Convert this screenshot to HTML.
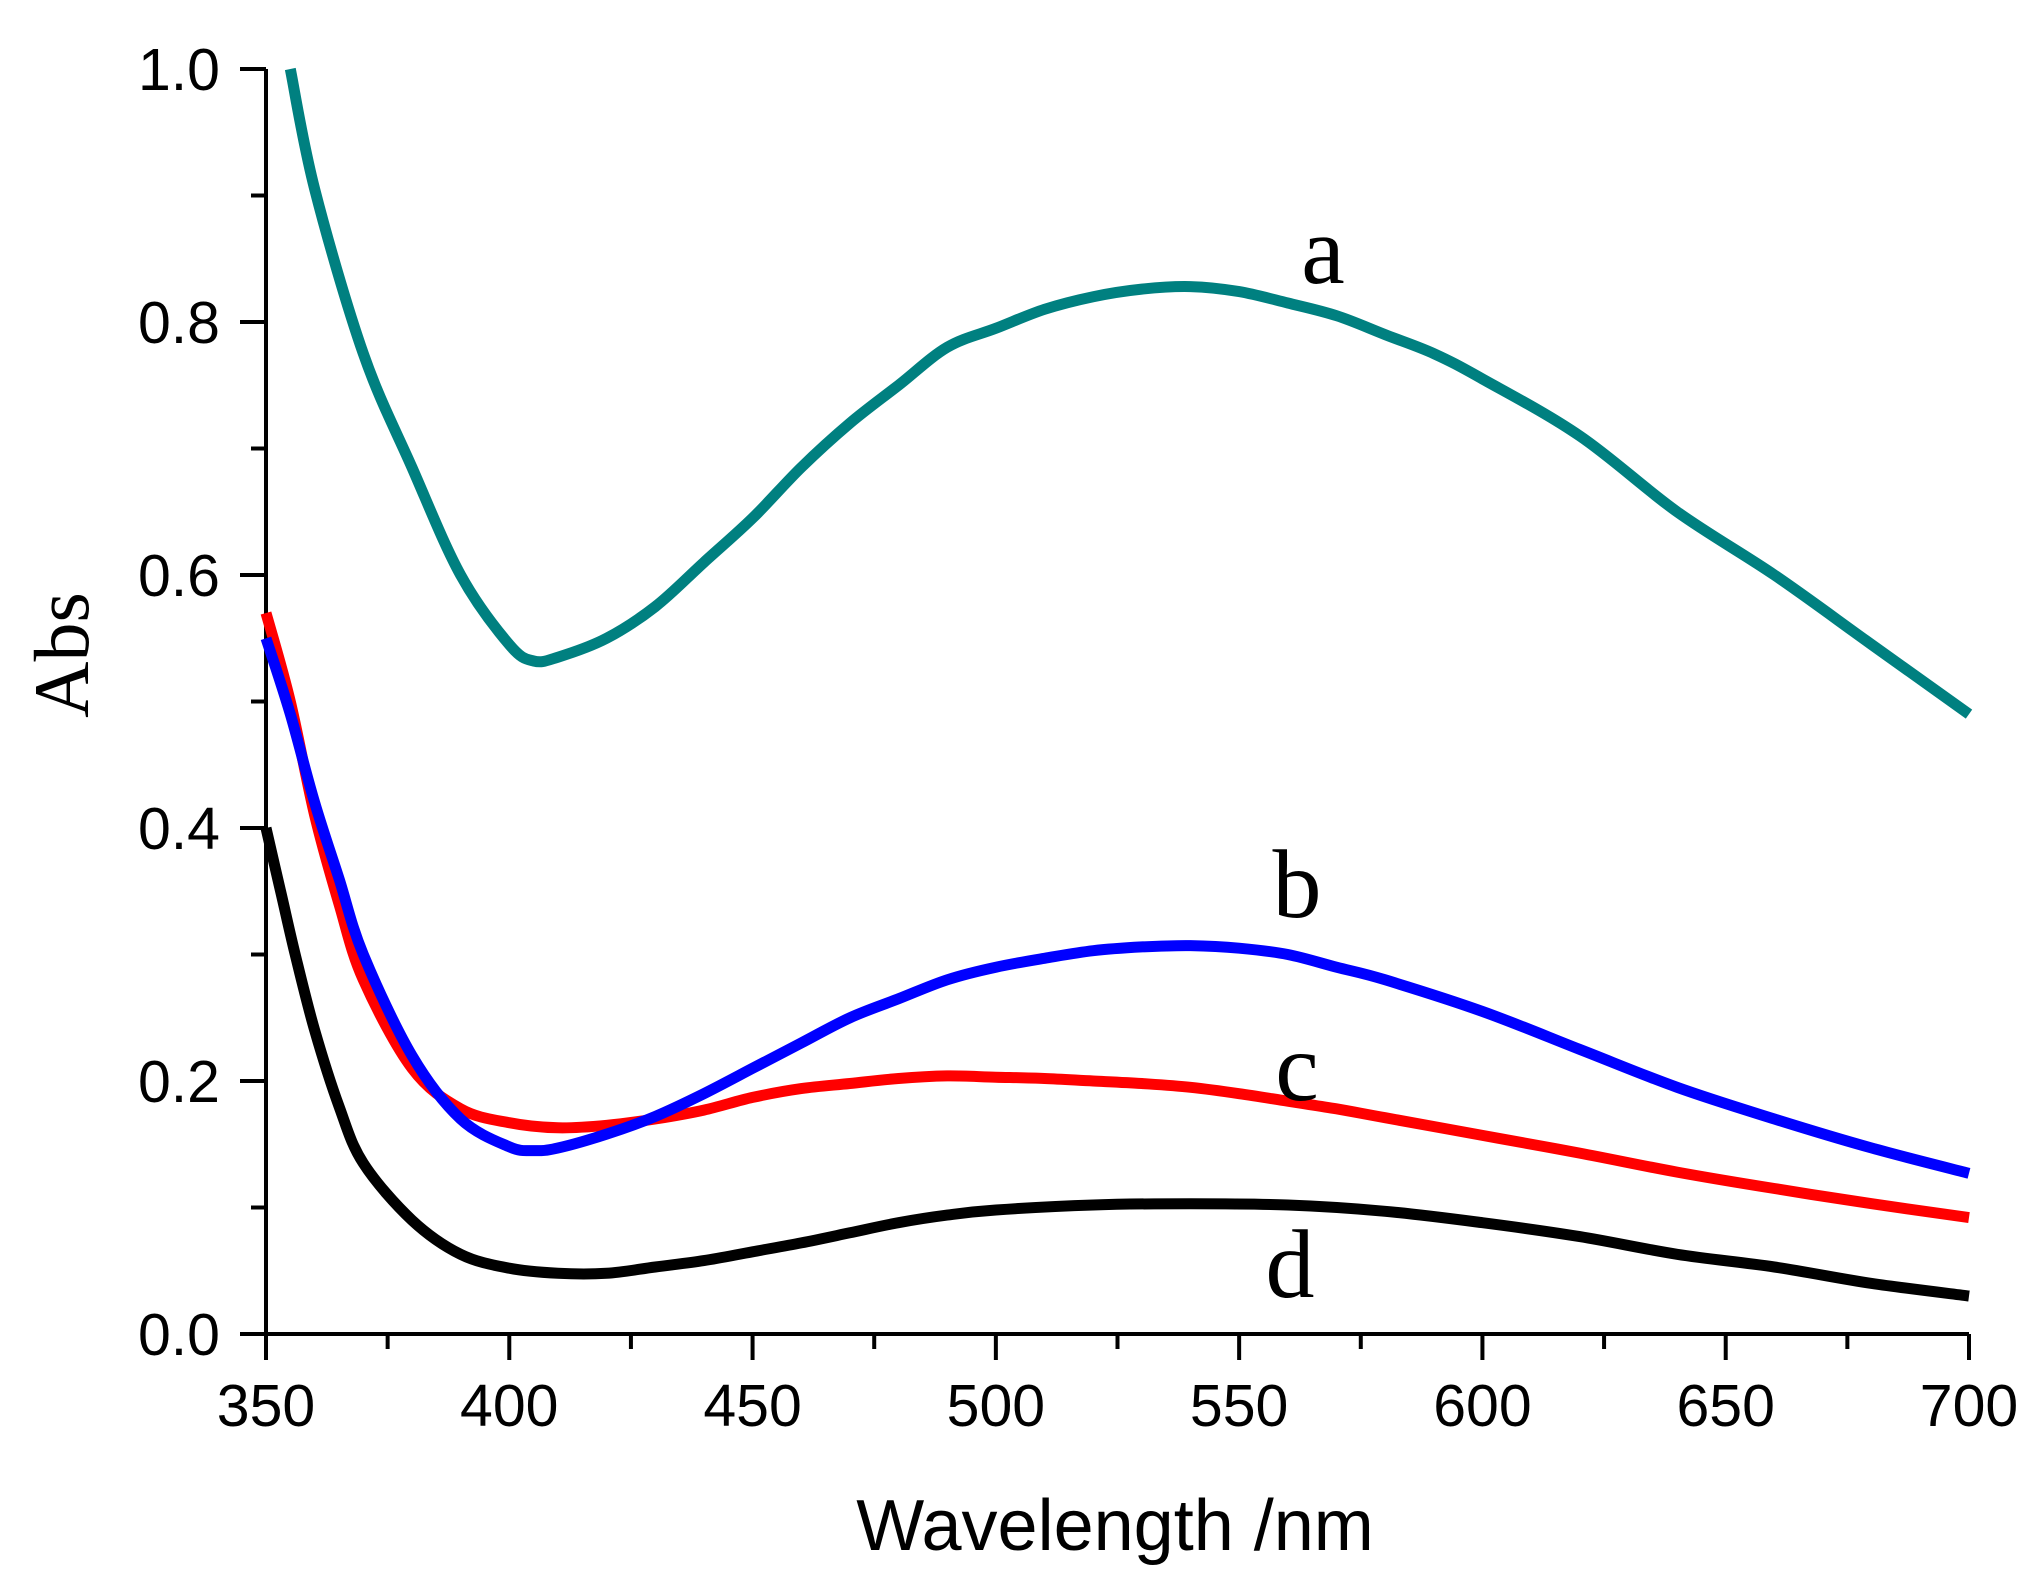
<!DOCTYPE html>
<html><head><meta charset="utf-8"><style>
html,body{margin:0;padding:0;background:#fff;}
svg{display:block;}
</style></head><body>
<svg id="s" width="2033" height="1584" xmlns="http://www.w3.org/2000/svg">
<g id="axes" stroke="#000" stroke-width="4" fill="none"></g>
<g id="curves" fill="none" stroke-linejoin="round" stroke-linecap="butt"></g>
<g id="txt" font-family="Liberation Sans, Arial, sans-serif" font-size="59" fill="#000"></g>
<text x="1115" y="1550" font-family="Liberation Sans, Arial, sans-serif" font-size="72" text-anchor="middle">Wavelength /nm</text>
<text transform="translate(88,655) rotate(-90)" font-family="Liberation Serif, Times New Roman, serif" font-size="78" text-anchor="middle">Abs</text>
<g font-family="Liberation Serif, Times New Roman, serif" font-size="98" text-anchor="middle">
<text x="1323" y="283">a</text>
<text x="1297" y="917">b</text>
<text x="1297" y="1100">c</text>
<text x="1290" y="1297">d</text>
</g>
</svg>
<script>
var X0=266,X1=1969,Y0=1334,Y1=69;
function px(n){return X0+(n-350)*(X1-X0)/350;}
function py(a){return Y0-a*(Y0-Y1);}
var NS="http://www.w3.org/2000/svg";
function el(p,t,at){var e=document.createElementNS(NS,t);for(var k in at)e.setAttribute(k,at[k]);p.appendChild(e);return e;}
var ax=document.getElementById('axes'),tx=document.getElementById('txt');
el(ax,'path',{d:'M'+X0+' '+Y1+' L'+X0+' '+Y0+' L'+X1+' '+Y0});
for(var n=350;n<=700;n+=25){var maj=(n%50==0);var x=px(n);
 el(ax,'line',{x1:x,y1:Y0,x2:x,y2:Y0+(maj?26:15)});
 if(maj){var t=el(tx,'text',{x:x,y:Y0+92,'text-anchor':'middle'});t.textContent=n;}}
for(var i=0;i<=10;i++){var a=i/10;var y=py(a);var maj=(i%2==0);
 el(ax,'line',{x1:X0,y1:y,x2:X0-(maj?26:15),y2:y});
 if(maj){var t=el(tx,'text',{x:220,y:y+21,'text-anchor':'end'});t.textContent=a.toFixed(1);}}
var data={
'#008080':[[355,1.0],[360,0.905],[370,0.775],[380,0.685],[390,0.6],[400,0.545],[405,0.532],[410,0.535],[420,0.55],[430,0.575],[440,0.61],[450,0.645],[460,0.685],[470,0.72],[480,0.75],[490,0.78],[500,0.795],[510,0.81],[520,0.82],[530,0.826],[540,0.828],[550,0.824],[560,0.815],[570,0.805],[580,0.79],[590,0.775],[600,0.755],[620,0.71],[640,0.65],[660,0.6],[680,0.545],[700,0.49]],
'#ff0000':[[350,0.57],[355,0.5],[360,0.41],[365,0.34],[370,0.28],[380,0.21],[390,0.178],[400,0.167],[410,0.163],[420,0.165],[430,0.17],[440,0.177],[450,0.187],[460,0.194],[470,0.198],[480,0.202],[490,0.204],[500,0.203],[510,0.202],[520,0.2],[530,0.198],[540,0.195],[550,0.19],[560,0.184],[570,0.178],[580,0.171],[600,0.157],[620,0.143],[640,0.128],[660,0.115],[680,0.103],[700,0.092]],
'#0000ff':[[350,0.55],[355,0.49],[360,0.42],[365,0.36],[370,0.3],[380,0.22],[390,0.17],[400,0.148],[405,0.145],[410,0.147],[420,0.158],[430,0.172],[440,0.19],[450,0.21],[460,0.23],[470,0.25],[480,0.265],[490,0.28],[500,0.29],[510,0.297],[520,0.303],[530,0.306],[540,0.307],[550,0.305],[560,0.3],[570,0.29],[580,0.28],[600,0.255],[620,0.225],[640,0.195],[660,0.17],[680,0.147],[700,0.127]],
'#000000':[[350,0.4],[353,0.35],[356,0.3],[360,0.24],[365,0.18],[370,0.135],[380,0.09],[390,0.063],[400,0.052],[410,0.048],[420,0.048],[430,0.053],[440,0.058],[450,0.065],[460,0.072],[470,0.08],[480,0.088],[490,0.094],[500,0.098],[520,0.102],[540,0.103],[560,0.102],[580,0.097],[600,0.088],[620,0.077],[640,0.063],[660,0.053],[680,0.04],[700,0.03]]};
var cv=document.getElementById('curves');
for(var c in data){var d=data[c].map(function(p){return [px(p[0]),py(p[1])];}),s='M'+d[0][0].toFixed(1)+' '+d[0][1].toFixed(1);
 for(var i=0;i<d.length-1;i++){var p0=d[Math.max(i-1,0)],p1=d[i],p2=d[i+1],p3=d[Math.min(i+2,d.length-1)];
  var c1x=p1[0]+(p2[0]-p0[0])/6,c1y=p1[1]+(p2[1]-p0[1])/6,c2x=p2[0]-(p3[0]-p1[0])/6,c2y=p2[1]-(p3[1]-p1[1])/6;
  s+=' C'+c1x.toFixed(1)+' '+c1y.toFixed(1)+' '+c2x.toFixed(1)+' '+c2y.toFixed(1)+' '+p2[0].toFixed(1)+' '+p2[1].toFixed(1);}
 el(cv,'path',{d:s,stroke:c,'stroke-width':11});}
</script>
</body></html>
